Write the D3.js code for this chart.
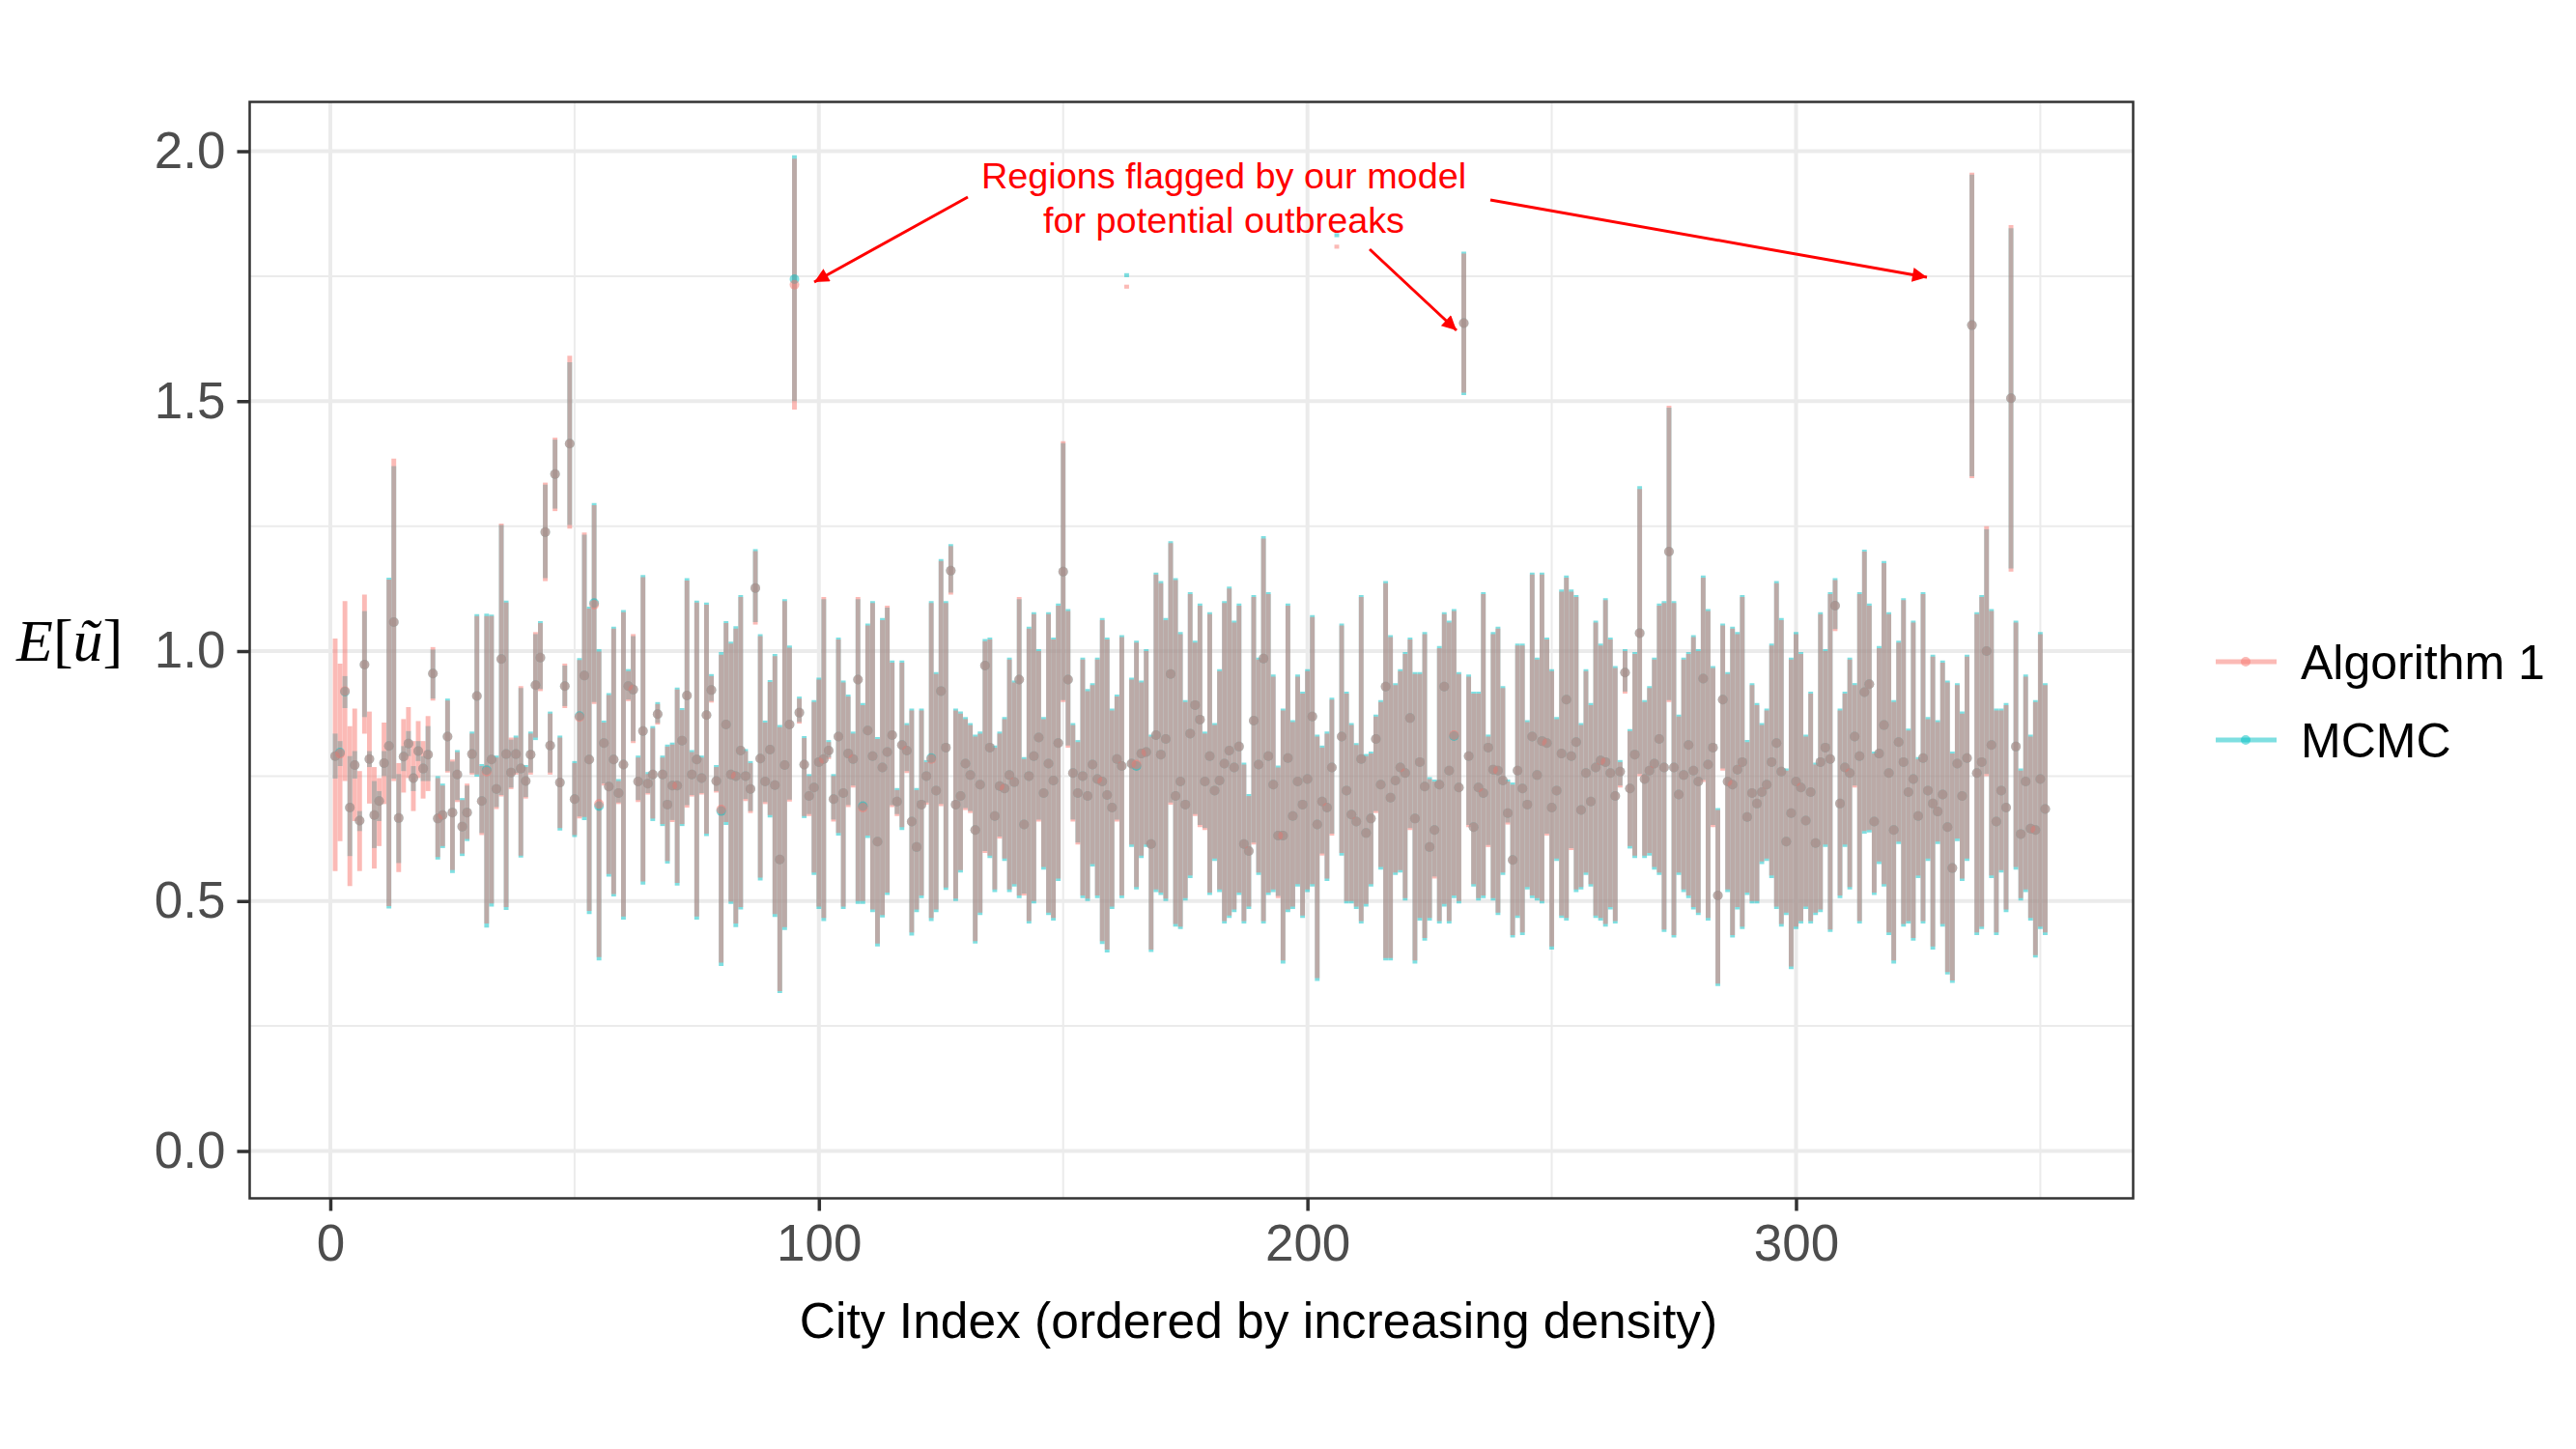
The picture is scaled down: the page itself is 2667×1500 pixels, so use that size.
<!DOCTYPE html>
<html>
<head>
<meta charset="utf-8">
<style>
  body { margin: 0; background: #fff; }
  text { font-family: "Liberation Sans", Arial, Helvetica, sans-serif; }
</style>
</head>
<body>
<script src="https://cdnjs.cloudflare.com/ajax/libs/d3/7.8.5/d3.min.js"></script>
<script>
// city index, ordered by increasing density
const cityIndex = d3.range(1, 352);

const seriesNames = ["Algorithm 1", "MCMC"];
const seriesColors = ["#F8766D", "#00BFC4"];

const yTicks = [0, 0.5, 1.0, 1.5, 2.0];
const yMinor = [0.25, 0.75, 1.25, 1.75];
const xTicks = [0, 100, 200, 300];
const xMinor = [50, 150, 250, 350];

// Algorithm 1 : posterior mean, lower and upper
const algMean = [
  0.790,0.795,0.920,0.687,0.772,0.661,0.973,0.784,0.672,0.700,
  0.776,0.810,1.058,0.666,0.789,0.815,0.746,0.800,0.765,0.793,
  0.955,0.665,0.672,0.829,0.677,0.753,0.649,0.677,0.794,0.910,
  0.700,0.759,0.783,0.724,0.984,0.794,0.757,0.794,0.765,0.740,
  0.793,0.932,0.987,1.238,0.811,1.354,0.737,0.930,1.415,0.704,
  0.868,0.951,0.783,1.093,0.694,0.816,0.729,0.783,0.716,0.773,
  0.930,0.923,0.739,0.840,0.735,0.753,0.874,0.753,0.693,0.731,
  0.731,0.821,0.911,0.753,0.783,0.746,0.872,0.922,0.740,0.683,
  0.853,0.753,0.750,0.801,0.750,0.724,1.126,0.785,0.739,0.803,
  0.732,0.583,0.772,0.853,1.733,0.877,0.773,0.710,0.727,0.778,
  0.784,0.801,0.704,0.829,0.716,0.795,0.784,0.943,0.687,0.841,
  0.790,0.619,0.767,0.798,0.832,0.699,0.812,0.801,0.659,0.608,
  0.693,0.750,0.784,0.721,0.920,0.807,1.161,0.693,0.710,0.775,
  0.752,0.642,0.733,0.971,0.807,0.670,0.730,0.725,0.752,0.738,
  0.943,0.653,0.750,0.790,0.827,0.716,0.775,0.741,0.816,1.159,
  0.943,0.756,0.716,0.750,0.710,0.773,0.744,0.739,0.712,0.687,
  0.784,0.770,null,0.775,0.773,0.795,0.798,0.614,0.832,0.793,
  0.824,0.954,0.710,0.739,0.693,0.835,0.892,0.863,0.739,0.790,
  0.721,0.741,0.775,0.801,0.767,0.809,0.614,0.600,0.861,0.773,
  0.985,0.790,0.733,0.631,0.631,0.786,0.670,0.739,0.693,0.744,
  0.869,0.653,0.699,0.687,0.767,null,0.829,0.721,0.673,0.659,
  0.784,0.636,0.665,0.824,0.733,0.929,0.707,0.741,0.767,0.756,
  0.866,0.665,0.778,0.729,0.608,0.642,0.733,0.929,0.761,0.832,
  0.727,1.656,0.790,0.648,0.727,0.716,0.807,0.763,0.761,0.741,
  0.676,0.582,0.761,0.725,0.693,0.829,0.752,0.820,0.816,0.687,
  0.721,0.795,0.903,0.790,0.818,0.682,0.756,0.699,0.767,0.781,
  0.778,0.756,0.710,0.759,0.957,0.725,0.793,1.036,0.744,0.761,
  0.775,0.824,0.767,1.199,0.767,0.713,0.752,0.812,0.761,0.739,
  0.945,0.773,0.807,0.511,0.903,0.739,0.733,0.763,0.778,0.668,
  0.716,0.695,0.718,0.733,0.778,0.816,0.759,0.619,0.676,0.739,
  0.727,0.661,0.718,0.616,0.778,0.807,0.784,1.091,0.695,0.767,
  0.756,0.829,0.790,0.918,0.934,0.659,0.795,0.852,0.756,0.642,
  0.818,0.778,0.718,0.744,0.670,0.786,0.721,0.695,0.679,0.713,
  0.648,0.566,0.775,0.710,0.786,1.652,0.756,0.778,1.000,0.812,
  0.659,0.721,0.687,1.506,0.809,0.634,0.739,0.645,0.642,0.744,
  0.684
];
const algLo = [
  0.560,0.620,0.740,0.530,0.660,0.560,0.835,0.695,0.565,0.610,
  0.694,0.490,0.740,0.558,0.717,0.746,0.680,0.746,0.705,0.720,
  0.901,0.588,0.610,0.757,0.562,0.698,0.595,0.624,0.753,0.753,
  0.632,0.455,0.495,0.684,0.709,0.488,0.724,0.753,0.591,0.705,
  0.753,0.827,0.920,1.140,0.753,1.280,0.646,0.886,1.245,0.632,
  0.665,0.668,0.480,0.894,0.388,0.731,0.554,0.514,0.694,0.469,
  0.900,0.816,0.698,0.539,0.713,0.665,0.853,0.654,0.580,0.658,
  0.536,0.654,0.687,0.709,0.469,0.713,0.635,0.897,0.717,0.377,
  0.658,0.499,0.455,0.488,0.700,0.676,1.053,0.547,0.694,0.672,
  0.474,0.320,0.448,0.699,1.483,0.855,0.670,0.670,0.557,0.489,
  0.466,0.784,0.659,0.636,0.489,0.688,0.727,0.500,0.500,0.631,
  0.483,0.415,0.472,0.517,0.688,0.670,0.648,0.756,0.437,0.483,
  0.511,0.693,0.466,0.483,0.690,0.527,1.113,0.505,0.562,0.682,
  0.676,0.420,0.477,0.596,0.591,0.523,0.625,0.585,0.523,0.534,
  0.511,0.511,0.460,0.500,0.659,0.568,0.477,0.466,0.545,0.898,
  0.807,0.659,0.613,0.511,0.505,0.574,0.511,0.420,0.403,0.489,
  0.659,0.511,1.725,0.613,0.528,0.591,0.613,0.403,0.523,0.517,
  0.505,0.693,0.454,0.449,0.506,0.551,0.670,0.648,0.642,0.517,
  0.585,0.523,0.460,0.471,0.483,0.517,0.460,0.489,0.613,0.557,
  0.460,0.517,0.523,0.506,0.381,0.483,0.489,0.534,0.471,0.523,
  0.534,0.346,0.591,0.545,0.631,1.805,0.596,0.500,0.500,0.489,
  0.460,0.494,0.534,0.676,0.568,0.386,0.386,0.557,0.562,0.506,
  0.642,0.381,0.466,0.426,0.466,0.545,0.460,0.494,0.460,0.511,
  0.500,1.517,0.648,0.534,0.506,0.511,0.608,0.506,0.477,0.557,
  0.653,0.432,0.471,0.437,0.528,0.511,0.506,0.500,0.631,0.409,
  0.585,0.471,0.466,0.602,0.523,0.528,0.557,0.534,0.471,0.466,
  0.454,0.488,0.460,0.727,0.915,0.610,0.591,0.750,0.591,0.596,
  0.568,0.557,0.443,0.898,0.432,0.557,0.523,0.511,0.488,0.477,
  0.738,0.466,0.648,0.335,0.761,0.523,0.432,0.488,0.449,0.517,
  0.500,0.500,0.579,0.585,0.551,0.489,0.454,0.477,0.369,0.449,
  0.460,0.489,0.460,0.477,0.483,0.613,0.443,1.040,0.511,0.613,
  0.528,0.727,0.460,0.640,0.642,0.517,0.579,0.534,0.437,0.381,
  0.619,0.454,0.460,0.426,0.551,0.460,0.585,0.409,0.619,0.454,
  0.358,0.341,0.625,0.545,0.585,1.346,0.437,0.449,0.750,0.551,
  0.437,0.562,0.483,1.159,0.568,0.506,0.523,0.466,0.392,0.449,
  0.437
];
const algHi = [
  1.025,0.975,1.100,0.850,0.885,0.760,1.113,0.879,0.768,0.746,
  0.857,1.143,1.385,0.776,0.864,0.888,0.820,0.860,0.820,0.870,
  1.008,0.746,0.731,0.901,0.783,0.798,0.702,0.735,0.835,1.070,
  0.770,1.070,1.070,0.787,1.255,1.097,0.827,0.827,0.930,0.768,
  0.835,1.038,1.056,1.337,0.875,1.427,0.827,0.975,1.591,0.776,
  0.982,1.237,1.085,1.292,0.999,0.857,0.912,1.045,0.740,1.078,
  0.960,1.034,0.787,1.148,0.754,0.846,0.894,0.787,0.809,0.813,
  0.923,0.882,1.141,0.798,1.097,0.787,1.093,0.950,0.768,0.993,
  1.056,1.015,1.045,1.108,0.800,0.776,1.200,1.030,0.857,0.938,
  0.990,0.848,1.100,1.007,1.985,0.905,0.826,0.750,0.898,0.943,
  1.108,0.818,0.750,1.023,0.937,0.909,0.835,1.108,0.892,1.051,
  1.096,0.824,1.062,1.091,0.977,0.722,0.977,0.852,0.881,0.722,
  0.881,0.778,1.096,0.954,1.180,1.096,1.210,0.881,0.875,0.864,
  0.852,0.829,0.835,1.020,1.023,0.807,0.835,0.864,0.983,0.937,
  1.108,0.784,1.045,1.074,1.000,0.864,1.074,1.023,1.091,1.420,
  1.080,0.852,0.818,0.983,0.920,0.932,0.983,1.062,1.023,0.881,
  0.909,1.028,1.733,0.943,1.017,0.937,1.000,0.829,1.153,1.136,
  1.062,1.216,1.142,1.034,0.898,1.114,1.017,1.091,0.835,1.074,
  0.852,0.960,1.096,1.125,1.057,1.091,0.773,0.710,1.108,0.983,
  1.225,1.114,0.949,0.767,0.881,1.091,0.858,0.949,0.915,0.960,
  1.068,0.829,0.807,0.835,0.903,1.813,1.051,0.915,0.852,0.812,
  1.108,0.790,0.795,0.869,0.898,1.136,1.028,0.932,0.960,0.994,
  1.023,0.954,0.954,1.034,0.744,0.739,1.006,1.074,1.057,1.080,
  0.954,1.795,0.949,0.915,0.915,1.114,0.829,1.034,1.045,0.926,
  0.739,0.733,1.011,1.011,0.858,1.153,0.983,1.153,1.023,0.960,
  0.864,1.119,1.147,1.119,1.108,0.852,0.960,0.892,1.057,1.011,
  1.102,1.023,0.966,0.778,1.000,0.840,0.994,1.324,0.898,0.926,
  0.983,1.091,1.096,1.491,1.096,0.869,0.983,0.994,1.028,1.000,
  1.147,1.080,0.966,0.682,1.051,0.954,1.045,1.034,1.108,0.818,
  0.932,0.892,0.852,0.881,1.011,1.136,1.062,0.761,0.983,1.034,
  0.994,0.829,0.915,0.773,1.074,1.000,1.114,1.142,0.881,0.915,
  0.983,0.932,1.114,1.199,1.091,0.795,1.006,1.176,1.074,0.898,
  1.017,1.102,0.841,1.057,0.784,1.114,0.864,0.989,0.858,0.977,
  0.937,0.795,0.932,0.875,0.989,1.957,1.074,1.108,1.250,1.080,
  0.881,0.881,0.892,1.852,1.057,0.761,0.949,0.829,0.898,1.034,
  0.932
];

// MCMC : posterior mean, lower and upper
const mcmcMean = [
  0.790,0.797,0.919,0.687,0.772,0.661,0.973,0.784,0.672,0.700,
  0.776,0.810,1.058,0.666,0.789,0.815,0.746,0.800,0.765,0.793,
  0.955,0.665,0.672,0.829,0.677,0.753,0.649,0.677,0.794,0.910,
  0.700,0.762,0.783,0.724,0.984,0.794,0.757,0.794,0.765,0.740,
  0.793,0.932,0.987,1.238,0.811,1.354,0.737,0.930,1.415,0.704,
  0.870,0.951,0.783,1.096,0.690,0.816,0.729,0.783,0.716,0.773,
  0.930,0.923,0.739,0.840,0.735,0.753,0.874,0.753,0.693,0.731,
  0.731,0.821,0.911,0.753,0.783,0.746,0.872,0.922,0.740,0.680,
  0.853,0.753,0.750,0.801,0.750,0.724,1.126,0.785,0.739,0.803,
  0.732,0.583,0.772,0.853,1.744,0.877,0.773,0.710,0.727,0.778,
  0.784,0.801,0.704,0.829,0.716,0.795,0.784,0.943,0.690,0.841,
  0.790,0.619,0.767,0.798,0.832,0.699,0.812,0.801,0.659,0.608,
  0.693,0.750,0.786,0.721,0.920,0.807,1.161,0.693,0.710,0.775,
  0.752,0.642,0.733,0.971,0.807,0.670,0.730,0.725,0.752,0.738,
  0.943,0.653,0.750,0.790,0.827,0.716,0.775,0.741,0.816,1.159,
  0.943,0.756,0.716,0.750,0.710,0.773,0.744,0.739,0.712,0.687,
  0.784,0.770,null,0.775,0.770,0.795,0.798,0.614,0.832,0.793,
  0.824,0.954,0.710,0.739,0.693,0.835,0.892,0.863,0.739,0.790,
  0.721,0.741,0.775,0.801,0.767,0.809,0.614,0.600,0.861,0.773,
  0.985,0.790,0.733,0.631,0.631,0.786,0.670,0.739,0.693,0.744,
  0.869,0.653,0.699,0.687,0.767,null,0.829,0.721,0.673,0.659,
  0.784,0.636,0.665,0.824,0.733,0.929,0.707,0.741,0.767,0.756,
  0.866,0.665,0.778,0.729,0.608,0.642,0.733,0.929,0.761,0.830,
  0.727,1.656,0.790,0.648,0.727,0.716,0.807,0.763,0.761,0.741,
  0.676,0.582,0.761,0.725,0.693,0.829,0.752,0.820,0.816,0.687,
  0.721,0.795,0.903,0.790,0.818,0.682,0.756,0.699,0.767,0.781,
  0.778,0.756,0.710,0.759,0.957,0.725,0.793,1.036,0.744,0.761,
  0.775,0.824,0.767,1.199,0.767,0.713,0.752,0.812,0.761,0.739,
  0.945,0.773,0.807,0.511,0.903,0.739,0.733,0.763,0.778,0.668,
  0.716,0.695,0.718,0.733,0.778,0.816,0.759,0.619,0.676,0.739,
  0.727,0.661,0.718,0.616,0.778,0.807,0.784,1.091,0.695,0.767,
  0.756,0.829,0.790,0.918,0.934,0.659,0.795,0.852,0.756,0.642,
  0.818,0.778,0.718,0.744,0.670,0.786,0.721,0.695,0.679,0.713,
  0.648,0.566,0.775,0.710,0.786,1.652,0.756,0.778,1.000,0.812,
  0.659,0.721,0.687,1.506,0.809,0.634,0.739,0.645,0.642,0.744,
  0.684
];
const mcmcLo = [
  0.745,0.770,0.886,0.590,0.745,0.640,0.868,0.768,0.606,0.660,
  0.750,0.485,0.745,0.576,0.760,0.790,0.720,0.780,0.740,0.740,
  0.905,0.583,0.606,0.760,0.556,0.702,0.590,0.620,0.756,0.749,
  0.636,0.447,0.489,0.688,0.712,0.482,0.727,0.756,0.587,0.708,
  0.757,0.822,0.924,1.146,0.757,1.285,0.641,0.890,1.252,0.628,
  0.669,0.662,0.474,0.898,0.381,0.735,0.549,0.509,0.697,0.463,
  0.903,0.820,0.702,0.533,0.716,0.660,0.856,0.650,0.575,0.662,
  0.531,0.650,0.692,0.712,0.463,0.716,0.630,0.900,0.720,0.370,
  0.652,0.494,0.448,0.483,0.704,0.680,1.058,0.541,0.698,0.667,
  0.468,0.316,0.442,0.703,1.500,0.858,0.666,0.674,0.552,0.484,
  0.460,0.787,0.663,0.631,0.484,0.692,0.731,0.494,0.494,0.626,
  0.478,0.409,0.467,0.512,0.692,0.674,0.642,0.760,0.431,0.478,
  0.506,0.697,0.460,0.478,0.694,0.522,1.117,0.500,0.557,0.686,
  0.680,0.415,0.472,0.600,0.586,0.518,0.629,0.580,0.518,0.529,
  0.506,0.515,0.455,0.495,0.663,0.563,0.472,0.461,0.540,0.902,
  0.811,0.663,0.617,0.506,0.500,0.569,0.506,0.414,0.397,0.484,
  0.663,0.506,1.748,0.608,0.523,0.586,0.608,0.398,0.518,0.512,
  0.500,0.697,0.449,0.444,0.501,0.546,0.674,0.652,0.646,0.512,
  0.580,0.518,0.455,0.466,0.478,0.512,0.455,0.484,0.617,0.552,
  0.455,0.512,0.518,0.510,0.375,0.478,0.484,0.529,0.466,0.518,
  0.529,0.340,0.595,0.540,0.635,1.828,0.591,0.495,0.495,0.484,
  0.455,0.489,0.529,0.680,0.563,0.381,0.381,0.552,0.557,0.501,
  0.646,0.375,0.461,0.421,0.461,0.549,0.455,0.489,0.455,0.506,
  0.495,1.512,0.652,0.529,0.501,0.506,0.612,0.501,0.472,0.552,
  0.657,0.427,0.466,0.432,0.523,0.506,0.501,0.495,0.635,0.403,
  0.580,0.466,0.461,0.606,0.518,0.523,0.552,0.529,0.466,0.461,
  0.449,0.483,0.455,0.731,0.919,0.605,0.586,0.754,0.586,0.591,
  0.563,0.552,0.438,0.902,0.427,0.552,0.518,0.506,0.483,0.472,
  0.742,0.461,0.652,0.330,0.765,0.518,0.427,0.483,0.444,0.512,
  0.495,0.495,0.574,0.580,0.546,0.484,0.449,0.472,0.364,0.444,
  0.455,0.484,0.455,0.472,0.478,0.608,0.438,1.044,0.506,0.608,
  0.523,0.731,0.455,0.635,0.637,0.512,0.574,0.529,0.432,0.375,
  0.614,0.449,0.455,0.421,0.546,0.455,0.580,0.403,0.614,0.449,
  0.353,0.336,0.620,0.540,0.580,1.350,0.432,0.444,0.754,0.546,
  0.432,0.557,0.478,1.165,0.563,0.501,0.518,0.461,0.387,0.444,
  0.432
];
const mcmcHi = [
  0.835,0.820,0.950,0.790,0.800,0.680,1.080,0.800,0.740,0.720,
  0.800,1.147,1.370,0.754,0.810,0.840,0.770,0.820,0.790,0.850,
  1.003,0.750,0.735,0.905,0.779,0.802,0.706,0.731,0.839,1.074,
  0.774,1.075,1.073,0.791,1.252,1.101,0.823,0.831,0.926,0.772,
  0.839,1.034,1.060,1.333,0.879,1.423,0.831,0.971,1.578,0.780,
  0.986,1.233,1.089,1.296,1.004,0.861,0.916,1.049,0.744,1.082,
  0.964,1.030,0.791,1.152,0.758,0.850,0.898,0.791,0.813,0.817,
  0.927,0.886,1.146,0.802,1.101,0.791,1.097,0.954,0.772,0.998,
  1.060,1.019,1.050,1.112,0.804,0.780,1.204,1.034,0.861,0.942,
  0.994,0.852,1.104,1.011,1.992,0.909,0.830,0.754,0.902,0.947,
  1.104,0.822,0.754,1.027,0.941,0.913,0.839,1.104,0.896,1.055,
  1.100,0.828,1.066,1.087,0.981,0.726,0.981,0.856,0.885,0.726,
  0.885,0.782,1.100,0.958,1.184,1.100,1.214,0.885,0.879,0.868,
  0.856,0.833,0.839,1.024,1.027,0.811,0.839,0.868,0.987,0.941,
  1.104,0.788,1.049,1.078,1.004,0.868,1.078,1.027,1.095,1.416,
  1.084,0.856,0.822,0.987,0.924,0.936,0.987,1.066,1.027,0.885,
  0.913,1.032,1.756,0.947,1.021,0.941,1.004,0.833,1.157,1.140,
  1.066,1.220,1.146,1.038,0.902,1.118,1.021,1.095,0.839,1.078,
  0.856,0.964,1.100,1.129,1.061,1.095,0.777,0.714,1.112,0.987,
  1.230,1.118,0.953,0.771,0.885,1.095,0.862,0.953,0.919,0.964,
  1.072,0.833,0.811,0.839,0.907,1.836,1.055,0.919,0.856,0.816,
  1.112,0.794,0.799,0.873,0.902,1.140,1.032,0.936,0.964,0.998,
  1.027,0.958,0.958,1.038,0.748,0.743,1.010,1.078,1.061,1.084,
  0.958,1.799,0.953,0.919,0.919,1.118,0.833,1.038,1.049,0.930,
  0.743,0.737,1.015,1.015,0.862,1.157,0.987,1.157,1.027,0.964,
  0.868,1.123,1.151,1.123,1.112,0.856,0.964,0.896,1.061,1.015,
  1.106,1.027,0.970,0.782,1.004,0.844,0.998,1.330,0.902,0.930,
  0.987,1.095,1.100,1.487,1.100,0.873,0.987,0.998,1.032,1.004,
  1.151,1.084,0.970,0.686,1.055,0.958,1.049,1.038,1.112,0.822,
  0.936,0.896,0.856,0.885,1.015,1.140,1.066,0.765,0.987,1.038,
  0.998,0.833,0.919,0.777,1.078,1.004,1.118,1.146,0.885,0.919,
  0.987,0.936,1.118,1.203,1.095,0.799,1.010,1.180,1.078,0.902,
  1.021,1.106,0.845,1.061,0.788,1.118,0.868,0.993,0.862,0.981,
  0.941,0.799,0.936,0.879,0.993,1.953,1.078,1.112,1.244,1.084,
  0.885,0.885,0.896,1.846,1.061,0.765,0.953,0.833,0.902,1.038,
  0.936
];

[algMean, algLo, algHi, mcmcMean, mcmcLo, mcmcHi].forEach((a, k) => {
  if (a.length !== cityIndex.length) throw new Error("array " + k + " has " + a.length);
});

const W = 2667, H = 1500;
const panel = { left: 258.5, right: 2208.5, top: 105.5, bottom: 1240.5 };

const svg = d3.select("body").append("svg")
  .attr("width", W).attr("height", H)
  .style("background", "#fff");

const x = d3.scaleLinear().domain([-16.5, 369]).range([panel.left, panel.right]);
const y = d3.scaleLinear().domain([-0.0947, 2.0986]).range([panel.bottom, panel.top]);

// grid
const grid = svg.append("g");
grid.selectAll(".ymin").data(yMinor).join("line")
  .attr("x1", panel.left).attr("x2", panel.right)
  .attr("y1", d => y(d)).attr("y2", d => y(d))
  .attr("stroke", "#ebebeb").attr("stroke-width", 2);
grid.selectAll(".xmin").data(xMinor).join("line")
  .attr("y1", panel.top).attr("y2", panel.bottom)
  .attr("x1", d => x(d)).attr("x2", d => x(d))
  .attr("stroke", "#ebebeb").attr("stroke-width", 2);
grid.selectAll(".ymaj").data(yTicks).join("line")
  .attr("x1", panel.left).attr("x2", panel.right)
  .attr("y1", d => y(d)).attr("y2", d => y(d))
  .attr("stroke", "#ebebeb").attr("stroke-width", 4);
grid.selectAll(".xmaj").data(xTicks).join("line")
  .attr("y1", panel.top).attr("y2", panel.bottom)
  .attr("x1", d => x(d)).attr("x2", d => x(d))
  .attr("stroke", "#ebebeb").attr("stroke-width", 4);

// rows per series (MCMC drawn first, Algorithm 1 on top)
function rowsFor(mean, lo, hi) {
  return cityIndex.map((c, i) => ({ city: c, mean: mean[i], lo: lo[i], hi: hi[i] }));
}
const series = [
  { name: "MCMC", color: seriesColors[1], rows: rowsFor(mcmcMean, mcmcLo, mcmcHi) },
  { name: "Algorithm 1", color: seriesColors[0], rows: rowsFor(algMean, algLo, algHi) }
];

const lineLayer = svg.append("g");
const pointLayer = svg.append("g");
series.forEach(s => {
  lineLayer.append("g").selectAll("line").data(s.rows).join("line")
    .attr("x1", d => x(d.city)).attr("x2", d => x(d.city))
    .attr("y1", d => y(d.lo)).attr("y2", d => y(d.hi))
    .attr("stroke", s.color).attr("stroke-opacity", 0.5)
    .attr("stroke-width", 4.9);
  pointLayer.append("g").selectAll("circle").data(s.rows.filter(d => d.mean != null)).join("circle")
    .attr("cx", d => x(d.city)).attr("cy", d => y(d.mean))
    .attr("r", 5)
    .attr("fill", s.color).attr("fill-opacity", 0.5);
});

// panel border
svg.append("rect")
  .attr("x", panel.left).attr("y", panel.top)
  .attr("width", panel.right - panel.left).attr("height", panel.bottom - panel.top)
  .attr("fill", "none").attr("stroke", "#333333").attr("stroke-width", 2.5);

// axes
const yAxis = svg.append("g")
  .attr("transform", `translate(${panel.left},0)`)
  .call(d3.axisLeft(y).tickValues(yTicks).tickFormat(d3.format(".1f")).tickSize(13).tickPadding(12));
const xAxis = svg.append("g")
  .attr("transform", `translate(0,${panel.bottom})`)
  .call(d3.axisBottom(x).tickValues(xTicks).tickFormat(d3.format("d")).tickSize(13).tickPadding(14));
[yAxis, xAxis].forEach(a => {
  a.select(".domain").remove();
  a.selectAll(".tick line").attr("stroke", "#333333").attr("stroke-width", 3.5);
  a.selectAll(".tick text")
    .attr("fill", "#4d4d4d")
    .style("font-family", '"Liberation Sans", Arial, Helvetica, sans-serif')
    .style("font-size", "53px");
});

// axis titles
svg.append("text")
  .attr("x", 1303).attr("y", 1385)
  .attr("text-anchor", "middle")
  .style("font-size", "51.5px")
  .attr("fill", "#000")
  .text("City Index (ordered by increasing density)");

const ylab = svg.append("text")
  .attr("x", 17).attr("y", 684)
  .style("font-family", '"Liberation Serif", "DejaVu Serif", serif')
  .style("font-size", "62px")
  .attr("fill", "#000");
ylab.append("tspan").style("font-style", "italic").text("E");
ylab.append("tspan").text("[");
ylab.append("tspan").style("font-style", "italic").text("ũ");
ylab.append("tspan").text("]");

// legend
const legend = svg.append("g");
seriesNames.forEach((name, i) => {
  const ly = 685 + i * 81;
  legend.append("line")
    .attr("x1", 2294).attr("x2", 2357).attr("y1", ly).attr("y2", ly)
    .attr("stroke", seriesColors[i]).attr("stroke-opacity", 0.5).attr("stroke-width", 4.9);
  legend.append("circle")
    .attr("cx", 2325).attr("cy", ly).attr("r", 5)
    .attr("fill", seriesColors[i]).attr("fill-opacity", 0.5);
  legend.append("text")
    .attr("x", 2382).attr("y", ly + 18)
    .style("font-size", "50px").attr("fill", "#000")
    .text(name);
});

// annotation
const red = "#ff0000";
svg.append("defs").append("marker")
  .attr("id", "head").attr("viewBox", "0 0 10 10")
  .attr("refX", 10).attr("refY", 5)
  .attr("markerWidth", 20).attr("markerHeight", 15)
  .attr("markerUnits", "userSpaceOnUse")
  .attr("orient", "auto")
  .append("path").attr("d", "M0,0 L10,5 L0,10 Z").attr("fill", red);

const note = svg.append("text")
  .attr("text-anchor", "middle").attr("fill", red)
  .style("font-size", "37.8px");
note.append("tspan").attr("x", 1267).attr("y", 195).text("Regions flagged by our model");
note.append("tspan").attr("x", 1267).attr("y", 241).text("for potential outbreaks");

const arrows = [
  [1002, 204, 843, 292],
  [1418, 258, 1508, 342],
  [1543, 207, 1995, 287]
];
svg.append("g").selectAll("line").data(arrows).join("line")
  .attr("x1", d => d[0]).attr("y1", d => d[1])
  .attr("x2", d => d[2]).attr("y2", d => d[3])
  .attr("stroke", red).attr("stroke-width", 3)
  .attr("marker-end", "url(#head)");
</script>
</body>
</html>
